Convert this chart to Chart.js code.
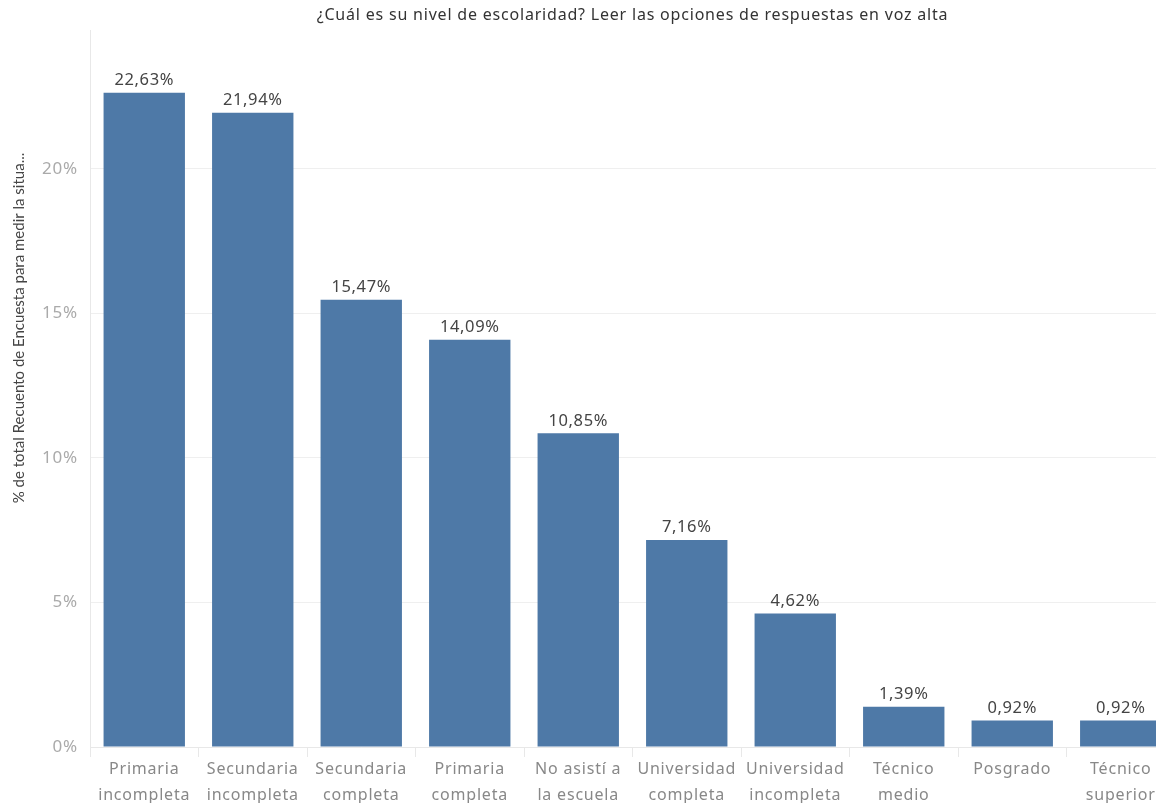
<!DOCTYPE html>
<html>
<head>
<meta charset="utf-8">
<script src="https://cdn.jsdelivr.net/npm/chart.js@4"></script>
<style>
  html, body { margin: 0; padding: 0; background: #fff; overflow: hidden; }
  #wrap { width: 1175px; height: 803px; }
</style>
</head>
<body>
<div id="wrap"><canvas id="escolaridad" width="1175" height="803"></canvas></div>
<script>
const categories = [
  ["Primaria", "incompleta"],
  ["Secundaria", "incompleta"],
  ["Secundaria", "completa"],
  ["Primaria", "completa"],
  ["No asistí a", "la escuela"],
  ["Universidad", "completa"],
  ["Universidad", "incompleta"],
  ["Técnico", "medio"],
  ["Posgrado"],
  ["Técnico", "superior"],
];
const values = [22.63, 21.94, 15.47, 14.09, 10.85, 7.16, 4.62, 1.39, 0.92, 0.92];
const yTicks = [0, 5, 10, 15, 20];

const FONT = "'Noto Sans', 'Open Sans', sans-serif";
const fmt = v => v.toFixed(2).replace(".", ",") + "%";

// Tableau-like loose tracking for all canvas text
const spacingPlugin = {
  id: "spacing",
  beforeDraw(chart) { chart.ctx.letterSpacing = "0.8px"; },
};

// titles and bar labels
const labelsPlugin = {
  id: "labels",
  afterDraw(chart) {
    const ctx = chart.ctx;
    const meta = chart.getDatasetMeta(0);
    ctx.save();
    ctx.letterSpacing = "0.6px";
    ctx.fillStyle = "#444";
    ctx.font = "16.5px " + FONT;
    ctx.textAlign = "center";
    ctx.textBaseline = "bottom";
    meta.data.forEach((bar, i) => {
      ctx.fillText(fmt(values[i]), bar.x, bar.y - 4);
    });

    ctx.fillStyle = "#333";
    ctx.font = "16px " + FONT;
    ctx.letterSpacing = "0.8px";
    ctx.textBaseline = "middle";
    const area = chart.chartArea;
    ctx.fillText("¿Cuál es su nivel de escolaridad? Leer las opciones de respuestas en voz alta",
      (area.left + area.right) / 2, 15);

    ctx.translate(19, 328);
    ctx.rotate(-Math.PI / 2);
    ctx.letterSpacing = "0px";
    ctx.fillStyle = "#444";
    ctx.font = "15px Lato, sans-serif";
    ctx.fillText("% de total Recuento de Encuesta para medir la situa...", 0, 0);
    ctx.restore();
  }
};

new Chart(document.getElementById("escolaridad"), {
  type: "bar",
  data: {
    labels: categories,
    datasets: [{
      data: values,
      backgroundColor: "#4e79a7",
      barPercentage: 0.75,
      categoryPercentage: 1,
    }],
  },
  options: {
    responsive: false,
    animation: false,
    layout: { padding: { top: 30, right: 0, left: 0, bottom: 0 } },
    plugins: {
      legend: { display: false },
      tooltip: { enabled: false },
    },
    scales: {
      x: {
        grid: {
          offset: true,
          drawOnChartArea: false,
          color: "#e8e8e8",
          tickLength: 10,
        },
        border: { color: "#e8e8e8" },
        ticks: {
          color: "#888",
          font: { family: FONT, size: 16, lineHeight: 1.6 },
          padding: 0,
          maxRotation: 0,
          autoSkip: false,
        },
        afterFit(scale) { scale.height = 56; },
      },
      y: {
        min: 0,
        max: 24.8,
        afterBuildTicks(scale) {
          scale.ticks = yTicks.map(v => ({ value: v }));
        },
        grid: { color: "#efefef", drawTicks: false },
        border: { color: "#e8e8e8" },
        ticks: {
          color: "#aaa",
          font: { family: FONT, size: 17 },
          padding: 12,
          callback: v => v + "%",
        },
        afterFit(scale) { scale.width = 90; },
      },
    },
  },
  plugins: [spacingPlugin, labelsPlugin],
});
</script>
</body>
</html>
